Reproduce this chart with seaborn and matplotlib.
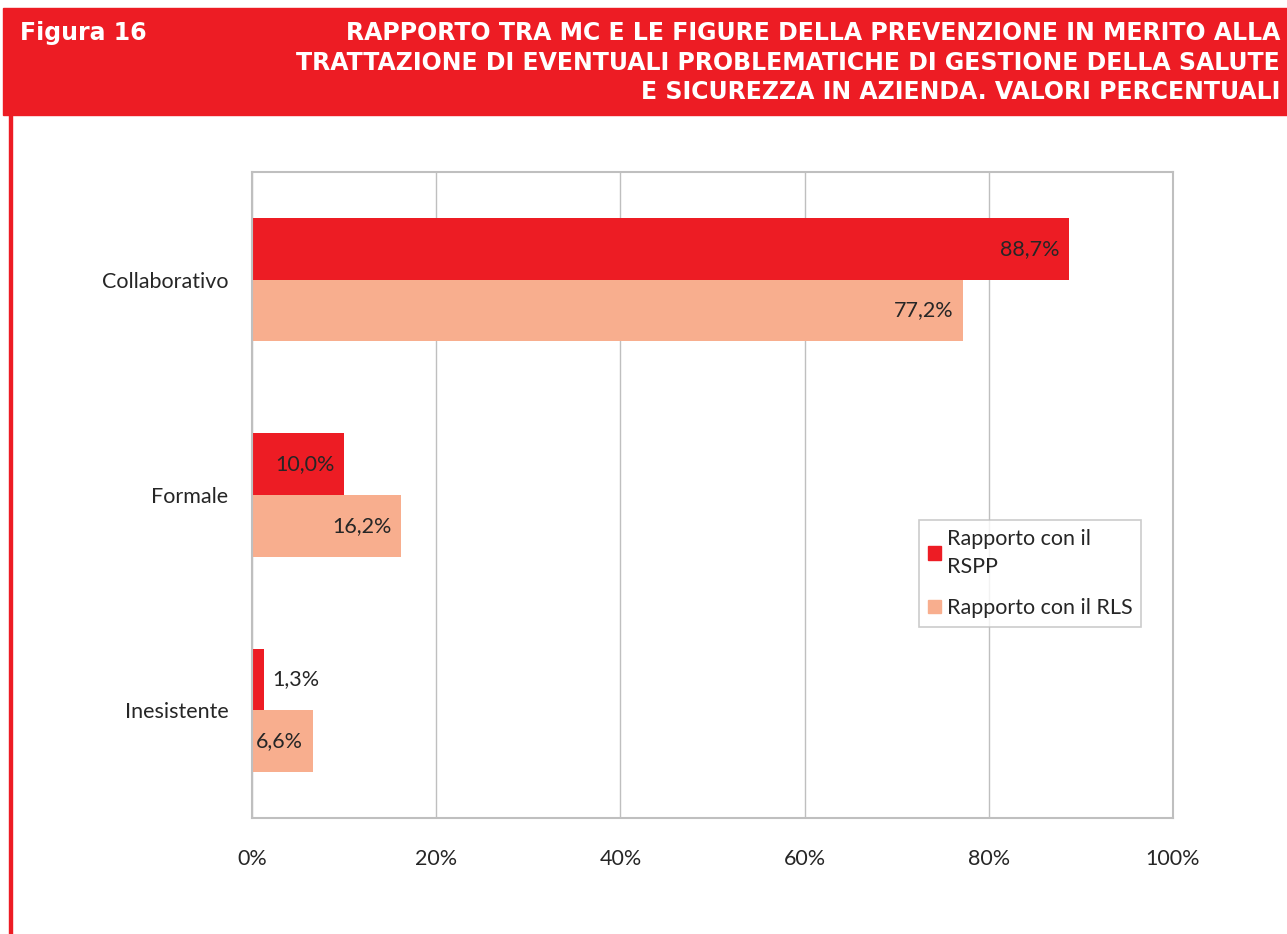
import pandas as pd
import matplotlib.pyplot as plt
import matplotlib.patches as mpatches
import seaborn as sns

# Figura 16 - rapporto tra MC e figure della prevenzione
categorie = ["Collaborativo", "Formale", "Inesistente"]
rspp = [88.7, 10.0, 1.3]
rls = [77.2, 16.2, 6.6]
serie = ["Rapporto con il\nRSPP", "Rapporto con il RLS"]
tick_x = [0, 20, 40, 60, 80, 100]

titolo = ["RAPPORTO TRA MC E LE FIGURE DELLA PREVENZIONE IN MERITO ALLA",
          "TRATTAZIONE DI EVENTUALI PROBLEMATICHE DI GESTIONE DELLA SALUTE",
          "E SICUREZZA IN AZIENDA. VALORI PERCENTUALI"]

ROSSO = "#ED1C24"
SALMONE = "#F8AE8E"
GRIGIO = "#BFBFBF"
TESTO = "#262626"

df = pd.DataFrame({
    "categoria": categorie * 2,
    "valore": rspp + rls,
    "serie": [serie[0]] * 3 + [serie[1]] * 3,
})

sns.set_style("white")
plt.rcParams["font.family"] = ["Lato", "DejaVu Sans"]

W, H = 1287, 934
fig = plt.figure(figsize=(W / 100, H / 100), dpi=100)

# header band + left border
fig.patches.append(mpatches.Rectangle((3 / W, 1 - 115 / H), 1 - 3 / W, 107 / H,
                                      transform=fig.transFigure, color=ROSSO, zorder=0))
fig.patches.append(mpatches.Rectangle((9 / W, 0), 2.5 / W, 1 - 115 / H,
                                      transform=fig.transFigure, color=ROSSO, zorder=0))
hfont = ["DejaVu Sans"]
fig.text(20 / W, 1 - 33 / H, "Figura 16", color="white", fontsize=17, fontweight="bold",
         family=hfont, ha="left", va="center")
for i, riga in enumerate(titolo):
    fig.text(1280 / W, 1 - (33 + 29.5 * i) / H, riga, color="white", fontsize=17,
             fontweight="bold", family=hfont, ha="right", va="center")

ax = fig.add_axes([252 / W, 116 / H, 921 / W, 646 / H])
sns.barplot(data=df, y="categoria", x="valore", hue="serie", orient="h",
            palette=[ROSSO, SALMONE], width=0.572, gap=0, saturation=1,
            edgecolor="none", ax=ax, legend=False, zorder=2)

ax.set_xlim(0, 100)
ax.set_ylim(2.5, -0.5)
ax.set_xticks(tick_x)
ax.set_xticklabels([f"{t}%" for t in tick_x])
ax.set_xlabel("")
ax.set_ylabel("")
ax.tick_params(axis="x", length=0, pad=22, labelsize=15.5, colors=TESTO)
ax.tick_params(axis="y", length=0, pad=17, labelsize=15.5, colors=TESTO)
ax.grid(axis="x", color=GRIGIO, lw=1, zorder=0)
ax.set_axisbelow(True)
for s in ax.spines.values():
    s.set_color(GRIGIO)
    s.set_linewidth(1.5)

for cont in ax.containers:
    for p in cont.patches:
        v = p.get_width()
        y = p.get_y() + p.get_height() / 2
        txt = f"{v:.1f}".replace(".", ",") + "%"
        if v < 5:
            ax.annotate(txt, (v, y), xytext=(6, 0), textcoords="offset points",
                        ha="left", va="center", fontsize=15.5, color=TESTO)
        else:
            ax.annotate(txt, (v, y), xytext=(-7, 0), textcoords="offset points",
                        ha="right", va="center", fontsize=15.5, color=TESTO)

handles = [mpatches.Patch(color=ROSSO, label=serie[0]),
           mpatches.Patch(color=SALMONE, label=serie[1])]
leg = ax.legend(handles=handles, loc="upper left", bbox_to_anchor=(919 / W, 1 - 520 / H),
                bbox_transform=fig.transFigure, fontsize=15.5, frameon=True, fancybox=False,
                handlelength=0.6, handleheight=0.6, handletextpad=0.3, labelspacing=1.0,
                borderpad=0.4, borderaxespad=0)
leg.get_frame().set_edgecolor(GRIGIO)
leg.get_frame().set_linewidth(1.2)
for t in leg.get_texts():
    t.set_color(TESTO)
    t.set_linespacing(1.5)

plt.savefig("out.png", dpi=100)
plt.close()
